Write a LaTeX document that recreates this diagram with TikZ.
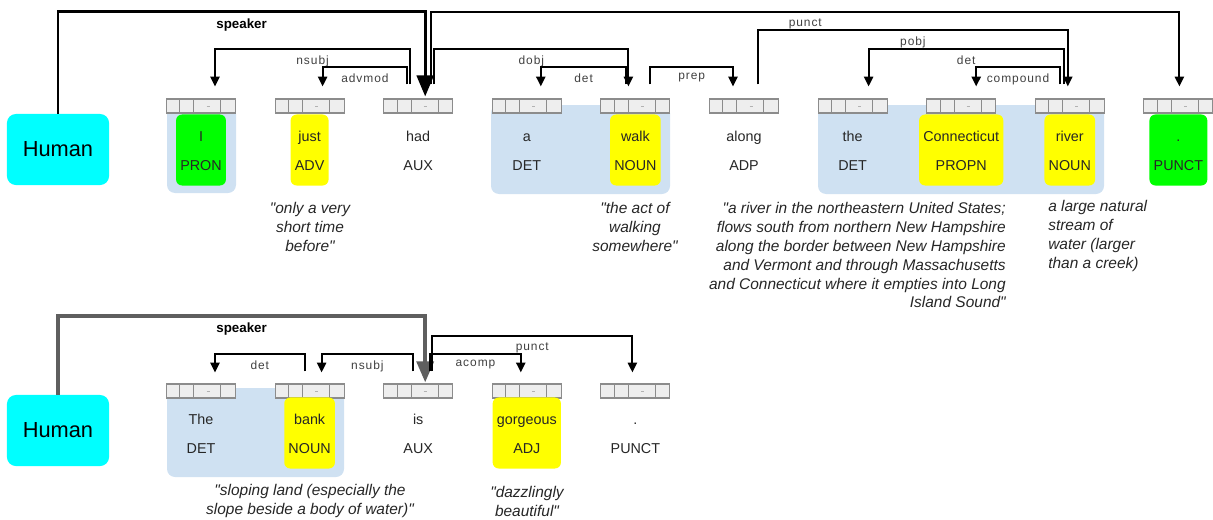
\documentclass[tikz,border=0pt]{standalone}
\usepackage{fontspec}
\setmainfont{Liberation Sans}
\newfontfamily\arcfont[LetterSpace=8]{Liberation Sans}
\usetikzlibrary{arrows.meta}
\definecolor{chunkblue}{RGB}{207,225,242}
\definecolor{cellgray}{RGB}{238,238,238}
\definecolor{celledge}{RGB}{140,140,140}
\definecolor{spkgray}{RGB}{95,95,95}
\definecolor{humancyan}{RGB}{0,255,255}
\definecolor{hlgreen}{RGB}{0,255,0}
\definecolor{hlyellow}{RGB}{255,255,0}
\newcommand{\qt}{\XeTeXglyph\XeTeXcharglyph34\relax}
\tikzset{
  hdr/.style={draw=celledge, fill=cellgray, line width=0.8pt, minimum width=1.725cm, minimum height=0.35cm, inner sep=0pt},
  hdrline/.style={draw=celledge, line width=0.8pt},
  tick/.style={draw=gray!60, line width=0.4pt},
  tok/.style={rounded corners=0.15cm, minimum height=1.775cm, inner xsep=3pt, align=center, text=black!85, font=\fontsize{10.2}{20.6}\selectfont},
  human/.style={fill=humancyan, rounded corners=0.22cm, minimum width=2.55cm, minimum height=1.775cm, font=\fontsize{15.5}{18}\selectfont},
  chunk/.style={fill=chunkblue, rounded corners=0.2cm},
  arc/.style={line width=1.5pt, -{Triangle[length=7pt,width=6.5pt]}},
  spk/.style={line width=2.1pt, -{Triangle[length=15pt,width=12pt]}},
  lbl/.style={below=1.5pt, inner sep=2pt, text=black!75, font=\arcfont\fontsize{8.5}{10}\selectfont},
  spklbl/.style={below=2pt, inner sep=2pt, text=black, font=\bfseries\fontsize{9.5}{11}\selectfont},
  gloss/.style={inner sep=0pt, text=black!85, font=\itshape\fontsize{11}{13.5}\selectfont}
}
\begin{document}
\begin{tikzpicture}[x=0.025cm,y=-0.025cm]
\useasboundingbox (0,0) rectangle (1213,520);

% noun chunks
\fill[chunk] (167,106) rectangle (236,193);
\fill[chunk] (491,105) rectangle (670,194);
\fill[chunk] (818,105) rectangle (1104,194);
\fill[chunk] (167,388) rectangle (344,477);

% sentence a
\node[human] (hum1) at (58,149.5) {Human};
\foreach \i/\wrd/\ptag/\hcol in {1/I/PRON/hlgreen, 2/just/ADV/hlyellow, 3/had/AUX/none, 4/a/DET/none, 5/walk/NOUN/hlyellow, 6/along/ADP/none, 7/the/DET/none, 8/Connecticut/PROPN/hlyellow, 9/river/NOUN/hlyellow, 10/./PUNCT/hlgreen}{
  \pgfmathsetmacro\cx{201+108.6*(\i-1)}
  \node[hdr] (ha\i) at (\cx,106) {};
  \foreach \d in {14,28,55}
    \draw[hdrline] ([xshift=\d*0.025cm]ha\i.north west) -- ([xshift=\d*0.025cm]ha\i.south west);
  \draw[tick] ([xshift=5.5*0.025cm]ha\i.center) -- ++(3,0);
  \node[tok,fill=\hcol] (wa\i) at (\cx,150) {\strut\wrd\\\strut\ptag};
}

\draw[spk] (hum1.north) -- ++(0,-102) -| node[pos=0.25,spklbl]{speaker} ([shift={(7,-2)}]ha3.north);
\draw[arc] ([shift={(13,-14)}]ha3.north) -- ++(0,-72) -| node[pos=0.25,lbl]{punct} ([shift={(1,-12)}]ha10.north);
\draw[arc] ([shift={(-8,-14)}]ha3.north) -- ++(0,-35) -| node[pos=0.25,lbl]{nsubj} ([shift={(14,-12)}]ha1.north);
\draw[arc] ([shift={(-11,-14)}]ha3.north) -- ++(0,-17) -| node[pos=0.25,lbl]{advmod} ([shift={(13,-12)}]ha2.north);
\draw[arc] ([shift={(16,-14)}]ha3.north) -- ++(0,-35) -| node[pos=0.25,lbl]{dobj} ([shift={(-7,-12)}]ha5.north);
\draw[arc] ([shift={(-9,-14)}]ha5.north) -- ++(0,-17) -| node[pos=0.25,lbl]{det} ([shift={(14,-12)}]ha4.north);
\draw[arc] ([shift={(15,-14)}]ha5.north) -- ++(0,-17) -| node[pos=0.25,lbl]{prep} ([shift={(-11,-12)}]ha6.north);
\draw[arc] ([shift={(14,-14)}]ha6.north) -- ++(0,-54) -| node[pos=0.25,lbl]{pobj} ([shift={(-2,-12)}]ha9.north);
\draw[arc] ([shift={(-6,-14)}]ha9.north) -- ++(0,-35) -| node[pos=0.25,lbl]{det} ([shift={(16,-12)}]ha7.north);
\draw[arc] ([shift={(-10,-14)}]ha9.north) -- ++(0,-17) -| node[pos=0.25,lbl]{compound} ([shift={(15,-12)}]ha8.north);

\node[gloss,align=center] (ga2) at (310,227) {\qt only a very\\short time\\before\qt};
\node[gloss,align=center] (ga5) at (635,227) {\qt the act of\\walking\\somewhere\qt};
\node[gloss,align=right,anchor=east] (ga8) at (1006,255) {\qt a river in the northeastern United States;\\flows south from northern New Hampshire\\along the border between New Hampshire\\and Vermont and through Massachusetts\\and Connecticut where it empties into Long\\Island Sound\qt};
\node[gloss,align=left,anchor=west] (ga9) at (1048,236) {a large natural\\stream of\\water (larger\\than a creek)};

% sentence b
\node[human] (hum2) at (58,430.5) {Human};
\foreach \i/\wrd/\ptag/\hcol in {1/The/DET/none, 2/bank/NOUN/hlyellow, 3/is/AUX/none, 4/gorgeous/ADJ/hlyellow, 5/./PUNCT/none}{
  \pgfmathsetmacro\cx{201+108.6*(\i-1)}
  \node[hdr] (hb\i) at (\cx,391) {};
  \foreach \d in {14,28,55}
    \draw[hdrline] ([xshift=\d*0.025cm]hb\i.north west) -- ([xshift=\d*0.025cm]hb\i.south west);
  \draw[tick] ([xshift=5.5*0.025cm]hb\i.center) -- ++(3,0);
  \node[tok,fill=\hcol] (wb\i) at (\cx,433) {\strut\wrd\\\strut\ptag};
}

\draw[spk,color=spkgray,line width=2.8pt] (hum2.north) -- ++(0,-79) -| node[pos=0.25,spklbl]{speaker} ([shift={(7,-1)}]hb3.north);
\draw[arc] ([shift={(-5,-12)}]hb2.north) -- ++(0,-17) -| node[pos=0.25,lbl]{det} ([shift={(14,-11)}]hb1.north);
\draw[arc] ([shift={(-5,-12)}]hb3.north) -- ++(0,-17) -| node[pos=0.25,lbl]{nsubj} ([shift={(12,-11)}]hb2.north);
\draw[arc] ([shift={(12,-12)}]hb3.north) -- ++(0,-17) -| node[pos=0.25,lbl]{acomp} ([shift={(-6,-11)}]hb4.north);
\draw[arc] ([shift={(14,-12)}]hb3.north) -- ++(0,-35) -| node[pos=0.25,lbl]{punct} ([shift={(-3,-11)}]hb5.north);

\node[gloss,align=center] (gb2) at (310,501) {\qt sloping land (especially the\\slope beside a body of water)\qt};
\node[gloss,align=center] (gb4) at (527,501) {\qt dazzlingly\\beautiful\qt};
\end{tikzpicture}
\end{document}
